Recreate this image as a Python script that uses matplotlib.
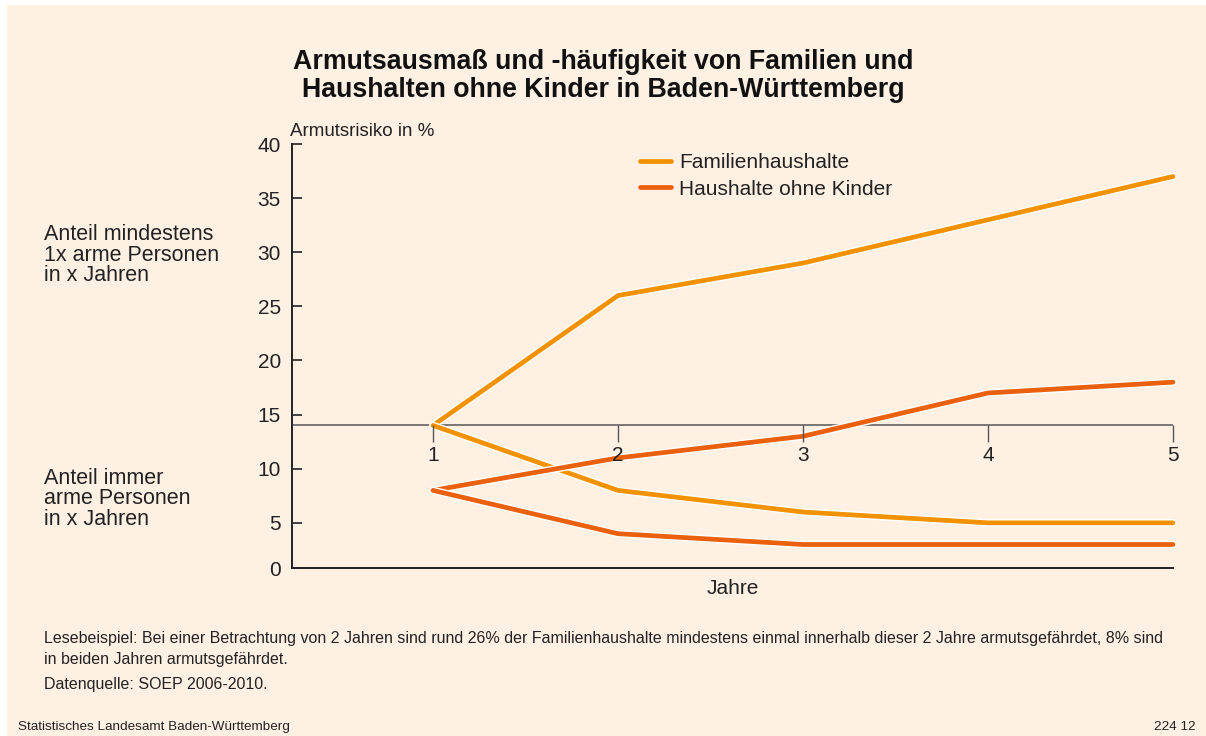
import matplotlib
matplotlib.use("Agg")
import matplotlib.pyplot as plt
import matplotlib.patheffects as pe
from matplotlib.patches import Rectangle

plt.rcParams['font.family'] = ['Liberation Sans', 'DejaVu Sans']

# Werte
jahre = [1, 2, 3, 4, 5]
fam_mindestens = [14, 26, 29, 33, 37]
fam_immer = [14, 8, 6, 5, 5]
ohne_mindestens = [8, 11, 13, 17, 18]
ohne_immer = [8, 4, 3, 3, 3]
y_ticks = [0, 5, 10, 15, 20, 25, 30, 35, 40]
trennlinie = 14

c_fam = '#F39200'
c_ohne = '#EA600C'
bg = '#FEF1E3'
txt = '#222222'

fig = plt.figure(figsize=(12.06, 7.36), dpi=100)
fig.patch.set_facecolor('white')
fig.add_artist(Rectangle((7 / 1206, 0), 1, 1 - 5 / 736, transform=fig.transFigure,
                         facecolor=bg, edgecolor='none', zorder=-10))

ax = fig.add_axes([292 / 1206, 1 - 568 / 736, (1173 - 292) / 1206, (568 - 144) / 736])
ax.set_facecolor('none')

# untere Achse liegt etwas ueber 0 (wie im Original)
ymin = 0.83
ax.set_ylim(ymin, 40)
ax.set_xlim(0.238, 5)

stroke = [pe.Stroke(linewidth=5.4, foreground='white'), pe.Normal()]
kw = dict(linewidth=3.4, solid_capstyle='round', solid_joinstyle='round',
          clip_on=False, path_effects=stroke, zorder=3)
ax.plot(jahre, fam_mindestens, color=c_fam, label='Familienhaushalte', **kw)
ax.plot(jahre, fam_immer, color=c_fam, **kw)
ax.plot(jahre, ohne_mindestens, color=c_ohne, label='Haushalte ohne Kinder', **kw)
ax.plot(jahre, ohne_immer, color=c_ohne, **kw)

for s in ['top', 'right']:
    ax.spines[s].set_visible(False)
ax.spines['left'].set_linewidth(1.4)
ax.spines['bottom'].set_linewidth(1.4)
ax.spines['left'].set_color(txt)
ax.spines['bottom'].set_color(txt)

tick_pos = [ymin if t == 0 else t for t in y_ticks]
ax.set_yticks(tick_pos)
ax.set_yticklabels([str(t) for t in y_ticks])
ax.tick_params(axis='y', direction='in', length=7, width=1.2, pad=8,
               labelsize=15, colors=txt)
ax.set_xticks([])

# Trennlinie bei 14 mit Jahres-Ticks
ax.axhline(trennlinie, color='#555555', linewidth=1.1, zorder=2, xmin=-0.003)
loc = (trennlinie - ymin) / (40 - ymin)
sec = ax.secondary_xaxis(loc)
sec.set_zorder(10)
sec.spines['bottom'].set_visible(False)
sec.set_xticks(jahre)
sec.set_xticklabels([str(j) for j in jahre])
sec.tick_params(direction='out', length=12, width=1.0, color='#555555',
                labelsize=15, labelcolor=txt, pad=3)

ax.set_xlabel('Jahre', fontsize=15, color=txt, labelpad=8)

leg = ax.legend(loc='upper left', bbox_to_anchor=(0.386, 0.998), frameon=False,
                fontsize=15, handlelength=1.45, handletextpad=0.4, labelspacing=0.36,
                borderaxespad=0)
for h in leg.get_lines():
    h.set_path_effects([])
    h.set_linewidth(3.4)
for t in leg.get_texts():
    t.set_color(txt)

fig.text(290 / 1206, 1 - 131 / 736, 'Armutsrisiko in %', fontsize=13.5, color=txt,
         ha='left', va='center')

fig.text(603 / 1206, 1 - 76 / 736,
         'Armutsausmaß und -häufigkeit von Familien und\nHaushalten ohne Kinder in Baden-Württemberg',
         fontsize=19.3, fontweight='bold', ha='center', va='center', color='#111111',
         linespacing=1.08)

fig.text(44 / 1206, 1 - 255 / 736, 'Anteil mindestens\n1x arme Personen\nin x Jahren',
         fontsize=15.5, color=txt, ha='left', va='center', linespacing=0.95)
fig.text(44 / 1206, 1 - 499 / 736, 'Anteil immer\narme Personen\nin x Jahren',
         fontsize=15.5, color=txt, ha='left', va='center', linespacing=0.95)

fig.text(44 / 1206, 1 - 649 / 736,
         'Lesebeispiel: Bei einer Betrachtung von 2 Jahren sind rund 26% der Familienhaushalte '
         'mindestens einmal innerhalb dieser 2 Jahre armutsgefährdet, 8% sind\n'
         'in beiden Jahren armutsgefährdet.',
         fontsize=11.5, color=txt, ha='left', va='center', linespacing=1.45)
fig.text(44 / 1206, 1 - 684 / 736, 'Datenquelle: SOEP 2006-2010.', fontsize=11.5, color=txt,
         ha='left', va='center')
fig.text(18 / 1206, 1 - 727 / 736, 'Statistisches Landesamt Baden-Württemberg', fontsize=9.7,
         color=txt, ha='left', va='center')
fig.text(1196 / 1206, 1 - 727 / 736, '224 12', fontsize=9.7, color=txt, ha='right', va='center')

fig.savefig('out.png', dpi=100, facecolor=fig.get_facecolor())
